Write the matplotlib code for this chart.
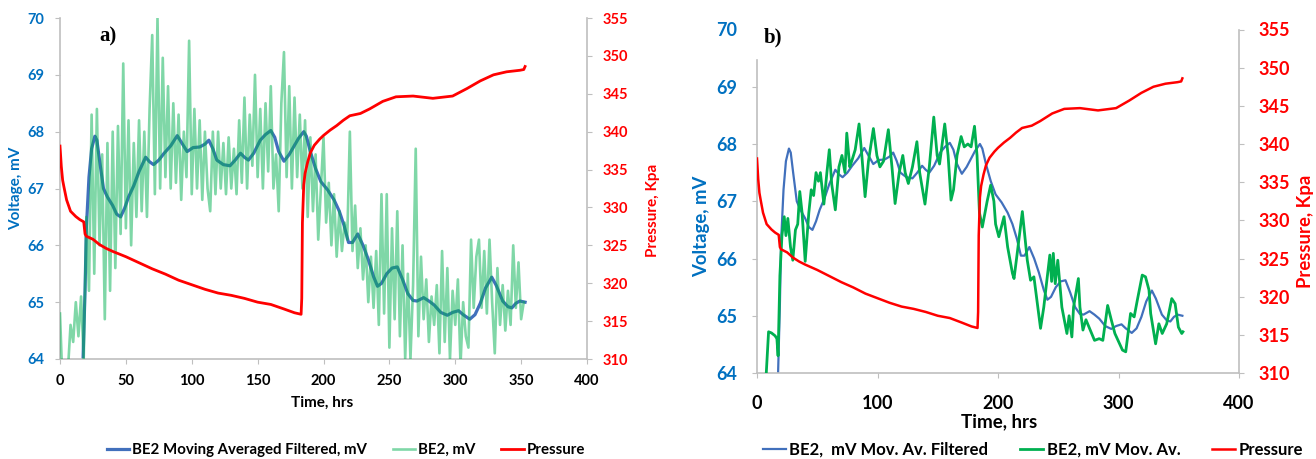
import numpy as np
import matplotlib
matplotlib.use("Agg")
import matplotlib.pyplot as plt

plt.rcParams["font.family"] = ["Lato", "DejaVu Sans"]
plt.rcParams["font.weight"] = "bold"

# ---- data ----
# pressure, kPa
t_pres = [0, 1, 2, 3, 5, 8, 12, 15, 18, 19, 20, 25, 30, 35, 40, 50, 60, 70, 80, 90,
          100, 110, 120, 130, 140, 150, 160, 170, 178, 183, 183.5, 184, 185, 186, 188,
          190, 193, 197, 200, 205, 210, 215, 220, 228, 235, 245, 255, 268, 283, 298,
          309, 319, 329, 339, 349, 352, 353]
pres = [338.1, 335.4, 333.6, 332.7, 331.0, 329.5, 328.8, 328.4, 328.1, 326.5, 326.2,
        325.8, 325.1, 324.6, 324.2, 323.5, 322.7, 321.9, 321.2, 320.4, 319.8, 319.2,
        318.7, 318.4, 318.0, 317.5, 317.2, 316.6, 316.1, 315.9, 318.0, 328.0, 333.0,
        334.5, 336.0, 337.2, 338.2, 339.0, 339.5, 340.2, 340.8, 341.5, 342.1, 342.4,
        343.0, 344.0, 344.6, 344.7, 344.4, 344.7, 345.7, 346.7, 347.5, 347.9, 348.1,
        348.2, 348.6]

# BE2 moving averaged filtered, mV
t_filt = [17.5, 19, 20, 22, 24, 26.5, 28, 30, 33, 36, 40, 43, 46, 49, 52, 56, 60, 65,
          68, 71, 75, 79, 84, 89, 93, 96.5, 101, 106, 110, 113, 116, 119, 124, 129, 133,
          137, 140, 143, 147, 152, 156, 160, 163, 166, 170, 174, 177, 181, 185, 187, 190,
          194, 198, 203, 208, 212, 215.6, 219, 222, 226, 230, 234, 238, 241, 244, 248,
          252, 256, 260, 264, 268, 271, 276, 280, 284, 289, 294, 298, 302.5, 306, 311,
          315, 319, 323, 327.7, 331, 336, 340, 343, 346, 349, 353]
v_filt = [64.0, 65.2, 66.3, 67.2, 67.7, 67.92, 67.85, 67.5, 67.0, 66.85, 66.7, 66.55,
          66.5, 66.65, 66.85, 67.05, 67.3, 67.55, 67.47, 67.42, 67.5, 67.62, 67.75, 67.93,
          67.78, 67.65, 67.72, 67.73, 67.78, 67.85, 67.7, 67.5, 67.42, 67.4, 67.5, 67.62,
          67.55, 67.5, 67.62, 67.85, 67.95, 68.02, 67.9, 67.65, 67.48, 67.6, 67.72, 67.88,
          68.0, 67.92, 67.65, 67.35, 67.12, 66.98, 66.8, 66.6, 66.35, 66.05, 66.05, 66.2,
          66.0, 65.75, 65.45, 65.28, 65.33, 65.5, 65.6, 65.62, 65.4, 65.15, 65.03, 65.02,
          65.08, 65.02, 64.95, 64.82, 64.77, 64.82, 64.85, 64.78, 64.7, 64.78, 64.98,
          65.25, 65.44, 65.3, 65.02, 64.92, 64.9, 64.98, 65.02, 65.0]

# BE2 raw, mV (sampled every 2 hrs)
t_raw = np.arange(0, 353, 2)
v_raw = [64.8, 63.5, 63.6, 63.8, 64.6, 64.3, 65.0, 64.4, 65.1, 64.0,
         66.5, 65.2, 68.3, 65.5, 68.4, 66.0, 67.6, 64.7, 67.8, 65.2,
         68.0, 65.6, 68.1, 66.2, 69.2, 66.3, 68.2, 66.0, 67.8, 66.5,
         68.2, 66.6, 68.0, 66.5, 68.4, 69.7, 66.9, 70.0, 67.0, 69.3,
         67.2, 68.8, 67.0, 68.5, 67.1, 68.3, 66.8, 68.0, 67.2, 69.6,
         66.9, 68.4, 67.0, 68.2, 66.8, 68.0, 67.0, 66.6, 68.0, 66.9,
         68.0, 67.0, 67.8, 66.9, 67.9, 67.0, 67.7, 66.9, 68.2, 67.1,
         68.6, 67.0, 68.3, 67.4, 69.0, 67.2, 68.4, 67.0, 68.5, 67.3,
         68.8, 67.0, 67.6, 66.6, 68.5, 69.4, 67.2, 68.8, 67.0, 68.6,
         67.2, 68.3, 67.0, 68.2, 66.5, 67.9, 66.6, 67.6, 66.1, 67.0,
         67.9, 66.4, 67.1, 66.0, 66.9, 65.8, 66.6, 65.9, 66.4, 66.1,
         68.0, 65.9, 66.7, 65.6, 66.3, 65.4, 66.0, 65.0, 65.8, 64.9,
         65.9, 64.6, 66.9, 64.8, 66.9, 64.2, 66.3, 64.7, 66.6, 64.4,
         66.0, 64.0, 65.5, 64.0, 65.3, 67.7, 64.4, 65.8, 64.7, 65.4,
         64.3, 65.1, 64.6, 65.3, 64.1, 65.9, 64.3, 65.6, 64.0, 65.2,
         64.6, 65.4, 63.9, 65.0, 64.4, 64.2, 66.1, 64.9, 65.8, 66.1,
         64.9, 65.9, 64.8, 66.1, 65.0, 64.1, 65.6, 64.6, 65.3, 64.5,
         65.2, 64.6, 66.0, 64.9, 65.7, 64.7, 65.0]

# BE2 mV moving average (panel b)
t_mov = [7.7, 9.6, 12, 15, 16.5, 17.5, 19, 20.7, 22.6, 24, 25.6, 27.8, 29.7, 31.9, 33.8,
         35.5, 37.4, 40, 43, 45, 47, 49, 51, 52.6, 55.5, 58, 60, 62, 65, 68, 70.5, 73,
         74.5, 77, 78.6, 81.5, 84.7, 87, 89.7, 92.5, 96.6, 99.5, 102, 105, 109, 112,
         114.6, 118, 121, 123, 125.6, 129, 132.7, 135, 139.4, 143, 146.7, 149.5, 151.5,
         155.8, 158.6, 161, 163.1, 166, 169.4, 172, 175, 177.7, 180.5, 182.6, 184.6, 187,
         191, 193.9, 196.6, 198, 200.7, 205, 208, 212, 213.3, 216, 220.2, 224.3, 227,
         229.8, 235.3, 238, 241, 243, 244.5, 245.9, 247.5, 249.6, 253, 257.2, 259, 261.3,
         262.7, 266.7, 268, 270.5, 273, 280.1, 284, 287, 291, 294, 297, 303.3, 306, 310,
         313, 315.6, 319.7, 322.4, 325.3, 326.7, 330.8, 333.5, 336.3, 340, 344.2, 347,
         349.7, 352.5, 353.5]
v_mov = [64.0, 64.72, 64.7, 64.65, 64.6, 64.3, 65.7, 66.4, 66.73, 66.4, 66.7, 66.2,
         65.97, 66.5, 66.6, 67.17, 66.8, 65.95, 66.8, 67.2, 67.1, 67.5, 67.35, 67.5,
         66.95, 67.5, 67.9, 67.3, 66.85, 67.6, 67.8, 67.5, 68.19, 67.6, 67.7, 67.9,
         68.35, 67.8, 67.08, 67.7, 68.27, 67.8, 67.6, 67.7, 68.25, 67.6, 66.96, 67.5,
         67.8, 67.5, 67.31, 67.6, 68.04, 67.5, 66.95, 67.6, 68.47, 67.8, 67.65, 68.35,
         67.8, 67.02, 67.2, 67.8, 68.13, 67.95, 68.0, 67.95, 68.31, 67.8, 66.8, 66.55,
         67.0, 67.28, 67.0, 66.6, 66.38, 66.73, 66.2, 65.74, 65.65, 66.1, 66.82, 65.97,
         65.62, 65.68, 64.78, 65.15, 65.7, 66.06, 65.6, 66.09, 65.56, 65.97, 65.15,
         64.69, 65.0, 64.63, 65.15, 65.65, 65.15, 64.75, 64.93, 64.57, 64.6, 64.57,
         65.18, 64.93, 64.69, 64.4, 64.37, 65.04, 64.98, 65.27, 65.71, 65.68, 65.45,
         65.04, 64.51, 64.86, 64.69, 64.86, 65.3, 65.21, 64.8, 64.69, 64.72]

BLUE_TXT = "#0070C0"
RED = "#FF0000"
BLUE = "#4170BC"
GREEN = "#00B050"
SPINE = "#BFBFBF"
W, H = 1316, 459


def style_axes(ax, ax2, xstep, fs, xpad, ypad):
    ax.set_xlim(0, 400)
    ax.set_xticks(np.arange(0, 401, xstep))
    ax.set_ylim(64, 70)
    ax.set_yticks(range(64, 71))
    ax2.set_ylim(310, 355)
    ax2.set_yticks(range(310, 356, 5))
    for a in (ax, ax2):
        a.spines["top"].set_visible(False)
        for s in ("left", "right", "bottom"):
            a.spines[s].set_color(SPINE)
            a.spines[s].set_linewidth(1.2)
    ax.spines["right"].set_visible(False)
    ax2.spines["left"].set_visible(False)
    ax2.spines["bottom"].set_visible(False)
    ax.tick_params(axis="y", colors=SPINE, labelcolor=BLUE_TXT, labelsize=fs,
                   length=3.5, pad=ypad)
    ax.tick_params(axis="x", colors=SPINE, labelcolor="black", labelsize=fs,
                   length=3.5, pad=xpad)
    ax2.tick_params(axis="y", colors=SPINE, labelcolor=RED, labelsize=fs,
                    length=3.5, pad=ypad)
    for lab in ax.get_xticklabels() + ax.get_yticklabels() + ax2.get_yticklabels():
        lab.set_fontweight("bold")


fig = plt.figure(figsize=(W / 100, H / 100), dpi=100)

# ---- panel a ----
axa = fig.add_axes([60 / W, 1 - 359 / H, 527 / W, 341 / H])
axa2 = axa.twinx()
la1, = axa.plot(t_filt, v_filt, color=BLUE, lw=2.3, zorder=2)
la2, = axa.plot(t_raw, v_raw, color=GREEN, alpha=0.5, lw=1.9, zorder=3)
la3, = axa2.plot(t_pres, pres, color=RED, lw=2.0)
style_axes(axa, axa2, 50, 10.5, 7, 8)
axa.text(0.091, 0.947, "a)", transform=axa.transAxes, family="Liberation Serif",
         fontsize=15, fontweight="bold", ha="center", va="center")
fig.text(16 / W, 1 - 188 / H, "Voltage, mV", rotation=90, color=BLUE_TXT,
         fontsize=11, fontweight="bold", ha="center", va="center")
fig.text(653 / W, 1 - 210 / H, "Pressure, Kpa", rotation=90, color=RED,
         fontsize=11, fontweight="bold", ha="center", va="center")
fig.text(322 / W, 1 - 403 / H, "Time, hrs", fontsize=11, fontweight="bold",
         ha="center", va="center")
fig.legend([la1, la2, la3], ["BE2 Moving Averaged Filtered, mV", "BE2, mV", "Pressure"],
           loc="center", bbox_to_anchor=(346 / W, 1 - 450 / H), ncol=3, frameon=False,
           handlelength=1.5, handletextpad=0.2, columnspacing=1.7,
           prop={"weight": "bold", "size": 10.8})

# ---- panel b ----
axb = fig.add_axes([757 / W, 1 - 373 / H, 482 / W, 343.5 / H])
axb2 = axb.twinx()
lb1, = axb.plot(t_filt, v_filt, color=BLUE, lw=1.6, zorder=2)
lb2, = axb.plot(t_mov, v_mov, color=GREEN, lw=2.0, zorder=3)
lb3, = axb2.plot(t_pres, pres, color=RED, lw=1.8)
style_axes(axb, axb2, 100, 13, 12, 10.5)
axb.spines["left"].set_bounds(64, 69.47)
axb.yaxis.get_major_ticks()[-1].tick1line.set_visible(False)
axb.text(0.033, 0.978, "b)", transform=axb.transAxes, family="Liberation Serif",
         fontsize=15, fontweight="bold", ha="center", va="center")
fig.text(702 / W, 1 - 226 / H, "Voltage, mV", rotation=90, color=BLUE_TXT,
         fontsize=13.3, fontweight="bold", ha="center", va="center")
fig.text(1305 / W, 1 - 231 / H, "Pressure, Kpa", rotation=90, color=RED,
         fontsize=13.3, fontweight="bold", ha="center", va="center")
fig.text(999 / W, 1 - 422 / H, "Time, hrs", fontsize=13.5, fontweight="bold",
         ha="center", va="center")
fig.legend([lb1, lb2, lb3], ["BE2,  mV Mov. Av. Filtered", "BE2, mV Mov. Av.", "Pressure"],
           loc="center", bbox_to_anchor=(1033 / W, 1 - 450 / H), ncol=3, frameon=False,
           handlelength=1.4, handletextpad=0.2, columnspacing=1.9,
           prop={"weight": "bold", "size": 12})

fig.savefig("out.png", dpi=100)
